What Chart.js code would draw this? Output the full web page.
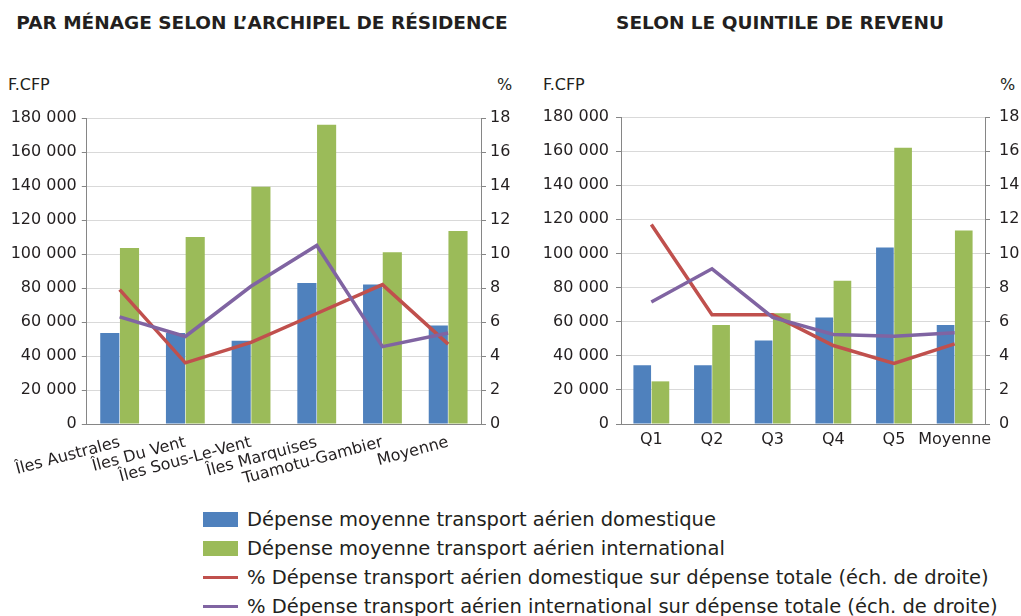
<!DOCTYPE html>
<html>
<head>
<meta charset="utf-8">
<script src="https://cdn.jsdelivr.net/npm/chart.js@4.4.1/dist/chart.umd.min.js"></script>
<style>
  body { margin: 0; background: #fff; font-family: "DejaVu Sans", sans-serif; color: #231f20; }
  #page { position: relative; width: 1021px; height: 616px; overflow: hidden; }
  .title { position: absolute; top: 12px; font-weight: bold; font-size: 18.5px; white-space: nowrap; transform: translateX(-50%); }
  .unit { position: absolute; top: 75px; font-size: 16px; }
  .box { position: absolute; }
  #legend { position: absolute; left: 203px; top: 505px; font-size: 19.5px; }
  #legend div { height: 29px; display: flex; align-items: center; white-space: nowrap; }
  .sw { display: inline-block; width: 35px; margin-right: 9px; }
</style>
</head>
<body>
<div id="page">
  <div class="title" style="left:262px">PAR MÉNAGE SELON L’ARCHIPEL DE RÉSIDENCE</div>
  <div class="title" style="left:780px">SELON LE QUINTILE DE REVENU</div>
  <div class="unit" style="left:8px">F.CFP</div>
  <div class="unit" style="left:497px">%</div>
  <div class="unit" style="left:543px">F.CFP</div>
  <div class="unit" style="left:1000px">%</div>
  <div class="box" style="left:0;top:98px;width:520px;height:400px"><canvas id="c1"></canvas></div>
  <div class="box" style="left:520px;top:97px;width:501px;height:400px"><canvas id="c2"></canvas></div>
  <div id="legend"></div>
</div>
<script>
// archipels
const archipels = ["Îles Australes", "Îles Du Vent", "Îles Sous-Le-Vent", "Îles Marquises", "Tuamotu-Gambier", "Moyenne"];
const archDomestique = [53500, 53500, 49000, 83000, 82000, 58000];
const archInternational = [103500, 110000, 139500, 176000, 101000, 113500];
const archPctDomestique = [7.9, 3.6, 4.8, 6.5, 8.2, 4.7];
const archPctInternational = [6.3, 5.15, 8.1, 10.5, 4.55, 5.35];

// quintiles
const quintiles = ["Q1", "Q2", "Q3", "Q4", "Q5", "Moyenne"];
const quintDomestique = [34500, 34500, 49000, 62500, 103500, 58000];
const quintInternational = [25000, 58000, 65000, 84000, 162000, 113500];
const quintPctDomestique = [11.7, 6.4, 6.4, 4.6, 3.55, 4.7];
const quintPctInternational = [7.15, 9.1, 6.25, 5.25, 5.15, 5.35];

const seriesNames = [
  "Dépense moyenne transport aérien domestique",
  "Dépense moyenne transport aérien international",
  "% Dépense transport aérien domestique sur dépense totale (éch. de droite)",
  "% Dépense transport aérien international sur dépense totale (éch. de droite)"
];
const colors = ["#4f81bd", "#9bbb59", "#c0504d", "#8064a2"];

const fmt = v => String(v).replace(/\B(?=(\d{3})+(?!\d))/g, " ");
const font = { family: "DejaVu Sans", size: 16 };

function makeChart(id, labels, dom, intl, pctDom, pctIntl, opt) {
  return new Chart(document.getElementById(id), {
    type: "bar",
    data: {
      labels,
      datasets: [
        { type: "line", label: seriesNames[3], data: pctIntl, yAxisID: "y1", borderColor: colors[3], borderWidth: 3.5, pointRadius: 0, order: 0 },
        { type: "line", label: seriesNames[2], data: pctDom, yAxisID: "y1", borderColor: colors[2], borderWidth: 3.5, pointRadius: 0, order: 0 },
        { label: seriesNames[0], data: dom, backgroundColor: colors[0], yAxisID: "y", order: 1, barPercentage: 0.97, categoryPercentage: 0.6 },
        { label: seriesNames[1], data: intl, backgroundColor: colors[1], yAxisID: "y", order: 1, barPercentage: 0.97, categoryPercentage: 0.6 }
      ]
    },
    options: {
      responsive: true,
      maintainAspectRatio: false,
      animation: false,
      layout: { padding: { top: 20, left: 0, right: 0, bottom: 0 } },
      plugins: { legend: { display: false }, tooltip: { enabled: false } },
      scales: {
        x: {
          grid: { display: false, tickLength: 0 },
          border: { color: "#868686" },
          ticks: { color: "#231f20", font, autoSkip: false, minRotation: opt.rot, maxRotation: opt.rot, padding: opt.xpad },
          afterFit: s => { s.height = opt.xh; }
        },
        y: {
          position: "left",
          min: 0, max: 180000,
          grid: { color: "#d9d9d9", tickColor: "#868686", tickLength: 5 },
          border: { color: "#868686" },
          ticks: { stepSize: 20000, color: "#231f20", font, padding: opt.ypad, callback: v => fmt(v) },
          afterFit: s => { s.width = opt.lw; }
        },
        y1: {
          position: "right",
          min: 0, max: 18,
          grid: { drawOnChartArea: false, tickColor: "#868686", tickLength: 5 },
          border: { color: "#868686" },
          ticks: { stepSize: 2, color: "#231f20", font, padding: opt.rpad },
          afterFit: s => { s.width = opt.rw; }
        }
      }
    }
  });
}

makeChart("c1", archipels, archDomestique, archInternational, archPctDomestique, archPctInternational,
  { rot: 15, xpad: 9, xh: 74, lw: 86, rw: 39, ypad: 5, rpad: 4 });
makeChart("c2", quintiles, quintDomestique, quintInternational, quintPctDomestique, quintPctInternational,
  { rot: 0, xpad: 6, xh: 73, lw: 101, rw: 36, ypad: 7, rpad: 9 });

const legend = document.getElementById("legend");
seriesNames.forEach((name, i) => {
  const row = document.createElement("div");
  const sw = document.createElement("span");
  sw.className = "sw";
  sw.style.height = i < 2 ? "15px" : "3px";
  sw.style.background = colors[i];
  row.appendChild(sw);
  row.appendChild(document.createTextNode(name));
  legend.appendChild(row);
});
</script>
</body>
</html>
